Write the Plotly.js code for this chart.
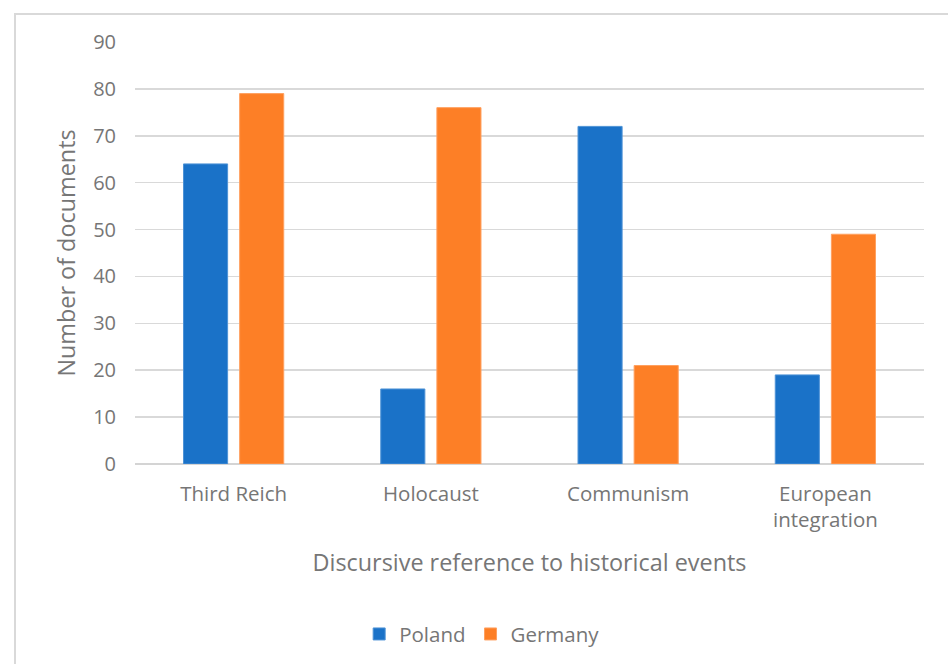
<!DOCTYPE html>
<html>
<head>
<meta charset="utf-8">
<script src="https://cdn.plot.ly/plotly-3.0.1.min.js"></script>
<style>
html,body{margin:0;padding:0;background:#fff;}
#wrap{position:relative;width:948px;height:664px;overflow:hidden;}
#chart{position:absolute;left:0;top:0;width:948px;height:664px;}
#frame{position:absolute;left:14px;top:13px;width:960px;height:700px;border:2px solid #d9d9d9;box-sizing:border-box;pointer-events:none;}
</style>
</head>
<body>
<div id="wrap"><div id="chart"></div><div id="frame"></div></div>
<script>
const categories = ["Third Reich", "Holocaust", "Communism", "European<br>integration"];
const polandValues = [64, 16, 72, 19];
const germanyValues = [79, 76, 21, 49];
const yTicks = [0, 10, 20, 30, 40, 50, 60, 70, 80, 90];

const FONT = "'Open Sans', sans-serif";
const GRAY = "#767676";

const data = [
  {type: "bar", name: "Poland", x: categories, y: polandValues,
   marker: {color: "#1A72C8", line: {color: "#4f93d6", width: 1}}},
  {type: "bar", name: "Germany", x: categories, y: germanyValues,
   marker: {color: "#FD7F26", line: {color: "#ffa060", width: 1}}}
];

const layout = {
  width: 948, height: 664,
  margin: {l: 135, r: 24, t: 42, b: 200, autoexpand: false},
  paper_bgcolor: "#fff", plot_bgcolor: "#fff",
  barmode: "group", bargap: 0.431, bargroupgap: 0.214,
  font: {family: FONT, color: GRAY, size: 20},
  xaxis: {
    type: "category", automargin: false,
    showgrid: false, showline: false, zeroline: false,
    ticks: "", tickfont: {family: FONT, size: 20.5, color: GRAY},
    ticklabelstandoff: 15,
    title: {text: "Discursive reference to historical events", font: {family: FONT, size: 23.4, color: GRAY}, standoff: 22}
  },
  yaxis: {
    range: [0, 90], tickvals: yTicks, ticktext: yTicks.map(String),
    automargin: false,
    showgrid: true, gridcolor: "#d9d9d9", gridwidth: 1.5,
    zeroline: true, zerolinecolor: "#d4d4d4", zerolinewidth: 2,
    showline: false, ticks: "",
    tickfont: {family: FONT, size: 20, color: GRAY},
    ticklabelstandoff: 18,
    title: {text: "Number of documents", font: {family: FONT, size: 23.4, color: GRAY}, standoff: 10}
  },
  legend: {
    orientation: "h", x: 0.44, xanchor: "center",
    yref: "container", y: 0.045, yanchor: "middle",
    font: {family: FONT, size: 20.5, color: GRAY}, itemwidth: 30, tracegroupgap: 0
  },
  showlegend: true
};

Plotly.newPlot("chart", data, layout, {displayModeBar: false, staticPlot: true});
</script>
</body>
</html>
